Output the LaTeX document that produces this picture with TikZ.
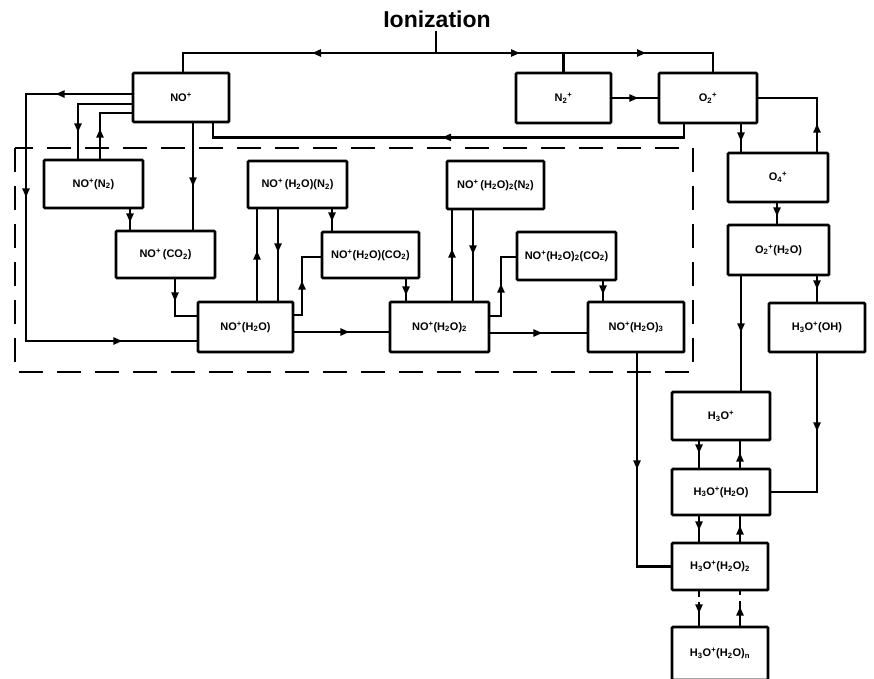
\documentclass[tikz,border=0pt]{standalone}
\usepackage{fontspec}
\setmainfont{Liberation Sans}
\usetikzlibrary{arrows.meta,decorations.markings}
\newcommand\ssb[2]{\textsubscript{#2}\textsuperscript{#1}}
\newcommand\spp{\textsuperscript{+}}
\newcommand\sbb[1]{\textsubscript{#1}}
\begin{document}
\begin{tikzpicture}[x=1pt,y=-1pt,line width=2.8pt,
  box/.style 2 args={draw, line width=2.8pt, minimum width=#1, minimum height=#2, inner sep=0pt,
     rounded corners=1pt, font=\bfseries\fontsize{11}{12}\selectfont},
  ar/.style={postaction={decorate,decoration={markings,
     mark=at position #1 with {\arrow{Triangle[length=9pt,width=7pt]}}}}},
  dbox/.style={line width=2.8pt, dash pattern=on 24pt off 14pt},
  dconnA/.style={dash pattern=on 6pt off 5pt on 60pt},
  dconnB/.style={dash pattern=on 25pt off 6pt on 30pt}]
\useasboundingbox (0,0) rectangle (874,678);

% title
\node[anchor=base, inner sep=2pt, font=\bfseries\fontsize{23}{26}\selectfont] (ion) at (437,27) {Ionization};
\coordinate (J) at (436,53);

% dashed region
\draw[dbox] (15,148) rectangle (693,372);

% boxes
\node[box={96pt}{49pt}] (NO) at (181,97.5) {NO\spp};
\node[box={95pt}{50pt}] (N2) at (563.5,98) {N\ssb{+}{2}};
\node[box={98pt}{50pt}] (O2) at (708,98) {O\ssb{+}{2}};
\node[box={99pt}{48pt}] (NON2) at (93.5,184) {NO\spp(N\sbb{2})};
\node[box={99pt}{47pt}] (NOCO2) at (165.5,254.5) {NO\spp\,(CO\sbb{2})};
\node[box={95pt}{50pt}] (NOH2O) at (245.5,327) {NO\spp(H\sbb{2}O)};
\node[box={99pt}{47pt}] (NOH2ON2) at (297.5,184.5) {NO\spp\,(H\sbb{2}O)(N\sbb{2})};
\node[box={97pt}{46pt}] (NOH2OCO2) at (370.5,255) {NO\spp(H\sbb{2}O)(CO\sbb{2})};
\node[box={99pt}{50pt}] (NOH2O2) at (439.5,327) {NO\spp(H\sbb{2}O)\sbb{2}};
\node[box={97pt}{48pt}] (NOH2O2N2) at (495.5,185) {NO\spp\,(H\sbb{2}O)\sbb{2}(N\sbb{2})};
\node[box={99pt}{48pt}] (NOH2O2CO2) at (566.5,256) {NO\spp(H\sbb{2}O)\sbb{2}(CO\sbb{2})};
\node[box={96pt}{50pt}] (NOH2O3) at (636,327) {NO\spp(H\sbb{2}O)\sbb{3}};
\node[box={100pt}{49pt}] (O4) at (778,177.5) {O\ssb{+}{4}};
\node[box={101pt}{50pt}] (O2H2O) at (778.5,250) {O\ssb{+}{2}(H\sbb{2}O)};
\node[box={96pt}{49pt}] (H3OOH) at (817,327.5) {H\sbb{3}O\spp(OH)};
\node[box={98pt}{48pt}] (H3O) at (721,416) {H\sbb{3}O\spp};
\node[box={98pt}{46pt}] (H3OH2O) at (721,492) {H\sbb{3}O\spp(H\sbb{2}O)};
\node[box={96pt}{47pt}] (H3OH2O2) at (720,566.5) {H\sbb{3}O\spp(H\sbb{2}O)\sbb{2}};
\node[box={96pt}{53pt}] (H3OH2On) at (720,653.5) {H\sbb{3}O\spp(H\sbb{2}O)\sbb{n}};

% ionization feeds
\draw (ion.south -| J) -- (J);
\draw[ar=124pt] (J) -| (NO.north -| 183,0);
\draw[ar=84pt, ar=210pt] (J) -| (O2.north -| 713,0);
\draw (N2.north) -- (N2.north |- J);
\draw[ar=26pt] (N2.east) -- (O2.west);
\draw[ar=255pt] (O2.south -| 684,0) -- ++(0,13) -| (NO.south -| 213,0);

% O2+ chain
\draw[ar=17pt] (O2.south -| 741,0) -- (O4.north -| 741,0);
\draw[ar=28pt] (O4.north -| 817,0) |- (O2.east);
\draw[ar=13pt] (O4.south -| 777,0) -- (O2H2O.north -| 777,0);
\draw[ar=13pt] (O2H2O.south -| 817,0) -- (H3OOH.north -| 817,0);
\draw[ar=56pt] (O2H2O.south -| 741,0) -- (H3O.north -| 741,0);
\draw[ar=78pt] (H3OOH.south -| 817,0) |- (H3OH2O.east);
\draw[ar=12pt] (H3O.south -| 699,0) -- (H3OH2O.north -| 699,0);
\draw[ar=15pt] (H3OH2O.north -| 740,0) -- (H3O.south -| 740,0);
\draw[ar=14pt] (H3OH2O.south -| 699,0) -- (H3OH2O2.north -| 699,0);
\draw[ar=16pt] (H3OH2O2.north -| 740,0) -- (H3OH2O.south -| 740,0);
\draw[dconnA, ar=22pt] (H3OH2O2.south -| 699,0) -- (H3OH2On.north -| 699,0);
\draw[dconnB, ar=19pt] (H3OH2On.north -| 740,0) -- (H3OH2O2.south -| 740,0);
\draw[ar=116pt] (NOH2O3.south -| 637,0) |- (H3OH2O2.west);

% NO+ cluster
\draw[ar=76pt, ar=209pt, ar=449pt] (NO.west |- 0,94) -| (26,341) -- (NOH2O.west |- 0,341);
\draw[ar=82pt] (NO.west |- 0,104) -| (NON2.north -| 78,0);
\draw[ar=30pt] (NON2.north -| 100,0) |- (NO.west |- 0,113);
\draw[ar=63pt] (NO.south -| 193,0) -- (NOCO2.north -| 193,0);
\draw[ar=13pt] (NON2.south -| 130,0) -- (NOCO2.north -| 130,0);
\draw[ar=22pt] (NOCO2.south -| 175,0) |- (NOH2O.west |- 0,316);
\draw[ar=55pt] (NOH2O.east |- 0,332) -- (NOH2O2.west |- 0,332);
\draw[ar=50pt] (NOH2O.north -| 257,0) -- (NOH2ON2.south -| 257,0);
\draw[ar=43pt] (NOH2ON2.south -| 278,0) -- (NOH2O.north -| 278,0);
\draw[ar=12pt] (NOH2ON2.south -| 332,0) -- (NOH2OCO2.north -| 332,0);
\draw[ar=42pt] (NOH2O.east |- 0,315) -| (302,257) -- (NOH2OCO2.west |- 0,257);
\draw[ar=16pt] (NOH2OCO2.south -| 406,0) -- (NOH2O2.north -| 406,0);
\draw[ar=52pt] (NOH2O2.north -| 452,0) -- (NOH2O2N2.south -| 452,0);
\draw[ar=44pt] (NOH2O2N2.south -| 473,0) -- (NOH2O2.north -| 473,0);
\draw[ar=43pt] (NOH2O2.east |- 0,316) -| (501,257) -- (NOH2O2CO2.west |- 0,257);
\draw[ar=13pt] (NOH2O2CO2.south -| 603,0) -- (NOH2O3.north -| 603,0);
\draw[ar=52pt] (NOH2O2.east |- 0,333) -- (NOH2O3.west |- 0,333);
\end{tikzpicture}
\end{document}
